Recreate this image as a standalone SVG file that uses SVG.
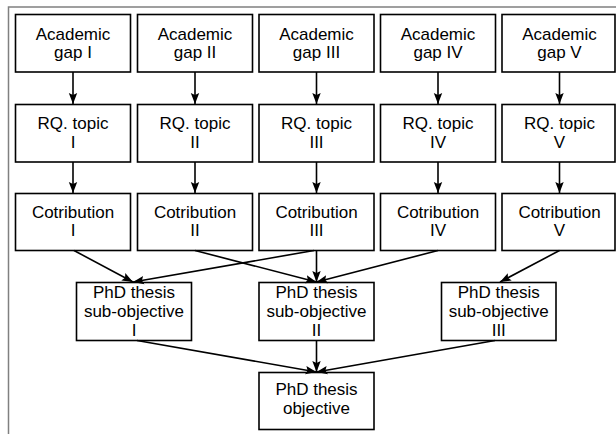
<svg xmlns="http://www.w3.org/2000/svg" width="616" height="434" viewBox="0 0 616 434">
  <style>
    .frame { fill: none; stroke: #808080; stroke-width: 1.5; }
    .box { fill: #ffffff; stroke: #000000; stroke-width: 1.6; }
    .lbl { font-family: "Liberation Sans", Arial, sans-serif; font-size: 17px; fill: #000000; text-anchor: middle; }
    .edge { fill: none; stroke: #000000; stroke-width: 1.6; marker-end: url(#arrow); }
  </style>
  <defs>
    <marker id="arrow" markerUnits="userSpaceOnUse" markerWidth="12" markerHeight="10" refX="11" refY="5" orient="auto">
      <path d="M0,0.8 L11,5 L0,9.2 L2,5 Z" fill="#000000"/>
    </marker>
  </defs>

  <rect width="616" height="434" fill="#ffffff"/>
  <!-- outer frame, open towards the right and bottom edges -->
  <path class="frame" d="M8.5,436 V7 H618"/>

  <!-- row 1: academic gaps -->
  <g id="gap1"><rect class="box" x="15.5" y="14.5" width="115" height="57.5"/><text class="lbl" x="73" y="39.5">Academic</text><text class="lbl" x="73" y="57.5">gap I</text></g>
  <g id="gap2"><rect class="box" x="137.5" y="14.5" width="115" height="57.5"/><text class="lbl" x="195" y="39.5">Academic</text><text class="lbl" x="195" y="57.5">gap II</text></g>
  <g id="gap3"><rect class="box" x="259" y="14.5" width="115" height="57.5"/><text class="lbl" x="316.5" y="39.5">Academic</text><text class="lbl" x="316.5" y="57.5">gap III</text></g>
  <g id="gap4"><rect class="box" x="380.5" y="14.5" width="115" height="57.5"/><text class="lbl" x="438" y="39.5">Academic</text><text class="lbl" x="438" y="57.5">gap IV</text></g>
  <g id="gap5"><rect class="box" x="502" y="14.5" width="113" height="57.5"/><text class="lbl" x="559.5" y="39.5">Academic</text><text class="lbl" x="559.5" y="57.5">gap V</text></g>

  <!-- row 2: research question topics -->
  <g id="rq1"><rect class="box" x="15.5" y="104.5" width="115" height="57.5"/><text class="lbl" x="73" y="129">RQ. topic</text><text class="lbl" x="73" y="147.5">I</text></g>
  <g id="rq2"><rect class="box" x="137.5" y="104.5" width="115" height="57.5"/><text class="lbl" x="195" y="129">RQ. topic</text><text class="lbl" x="195" y="147.5">II</text></g>
  <g id="rq3"><rect class="box" x="259" y="104.5" width="115" height="57.5"/><text class="lbl" x="316.5" y="129">RQ. topic</text><text class="lbl" x="316.5" y="147.5">III</text></g>
  <g id="rq4"><rect class="box" x="380.5" y="104.5" width="115" height="57.5"/><text class="lbl" x="438" y="129">RQ. topic</text><text class="lbl" x="438" y="147.5">IV</text></g>
  <g id="rq5"><rect class="box" x="502" y="104.5" width="113" height="57.5"/><text class="lbl" x="559.5" y="129">RQ. topic</text><text class="lbl" x="559.5" y="147.5">V</text></g>

  <!-- row 3: contributions -->
  <g id="con1"><rect class="box" x="15.5" y="193.5" width="115" height="57"/><text class="lbl" x="73" y="217.5">Cotribution</text><text class="lbl" x="73" y="236">I</text></g>
  <g id="con2"><rect class="box" x="137.5" y="193.5" width="115" height="57"/><text class="lbl" x="195" y="217.5">Cotribution</text><text class="lbl" x="195" y="236">II</text></g>
  <g id="con3"><rect class="box" x="259" y="193.5" width="115" height="57"/><text class="lbl" x="316.5" y="217.5">Cotribution</text><text class="lbl" x="316.5" y="236">III</text></g>
  <g id="con4"><rect class="box" x="380.5" y="193.5" width="115" height="57"/><text class="lbl" x="438" y="217.5">Cotribution</text><text class="lbl" x="438" y="236">IV</text></g>
  <g id="con5"><rect class="box" x="502" y="193.5" width="113" height="57"/><text class="lbl" x="559.5" y="217.5">Cotribution</text><text class="lbl" x="559.5" y="236">V</text></g>

  <!-- row 4: thesis sub-objectives -->
  <g id="sub1"><rect class="box" x="76.5" y="282.5" width="115" height="58"/><text class="lbl" x="134" y="297.5">PhD thesis</text><text class="lbl" x="134" y="316.5">sub-objective</text><text class="lbl" x="134" y="335.5">I</text></g>
  <g id="sub2"><rect class="box" x="259" y="282.5" width="115" height="58"/><text class="lbl" x="316.5" y="297.5">PhD thesis</text><text class="lbl" x="316.5" y="316.5">sub-objective</text><text class="lbl" x="316.5" y="335.5">II</text></g>
  <g id="sub3"><rect class="box" x="441.5" y="282.5" width="114.5" height="58"/><text class="lbl" x="498.75" y="297.5">PhD thesis</text><text class="lbl" x="498.75" y="316.5">sub-objective</text><text class="lbl" x="498.75" y="335.5">III</text></g>

  <!-- row 5: thesis objective -->
  <g id="objective"><rect class="box" x="259" y="372.5" width="115" height="57"/><text class="lbl" x="316.5" y="395">PhD thesis</text><text class="lbl" x="316.5" y="413.5">objective</text></g>

  <!-- connectors -->
  <g id="connectors">
    <line class="edge" x1="73" y1="72" x2="73" y2="104"/>
    <line class="edge" x1="195" y1="72" x2="195" y2="104"/>
    <line class="edge" x1="316.5" y1="72" x2="316.5" y2="104"/>
    <line class="edge" x1="438" y1="72" x2="438" y2="104"/>
    <line class="edge" x1="559.5" y1="72" x2="559.5" y2="104"/>

    <line class="edge" x1="73" y1="162" x2="73" y2="193"/>
    <line class="edge" x1="195" y1="162" x2="195" y2="193"/>
    <line class="edge" x1="316.5" y1="162" x2="316.5" y2="193"/>
    <line class="edge" x1="438" y1="162" x2="438" y2="193"/>
    <line class="edge" x1="559.5" y1="162" x2="559.5" y2="193"/>

    <line class="edge" x1="74" y1="250.5" x2="133" y2="282"/>
    <line class="edge" x1="314" y1="250.5" x2="133" y2="282"/>
    <line class="edge" x1="195" y1="250.5" x2="316.5" y2="282"/>
    <line class="edge" x1="316.5" y1="250.5" x2="316.5" y2="282"/>
    <line class="edge" x1="438" y1="250.5" x2="316.5" y2="282"/>
    <line class="edge" x1="559.5" y1="250.5" x2="500" y2="282"/>

    <line class="edge" x1="137" y1="340.5" x2="316.5" y2="372"/>
    <line class="edge" x1="316.5" y1="340.5" x2="316.5" y2="372"/>
    <line class="edge" x1="495" y1="340.5" x2="316.5" y2="372"/>
  </g>
</svg>
